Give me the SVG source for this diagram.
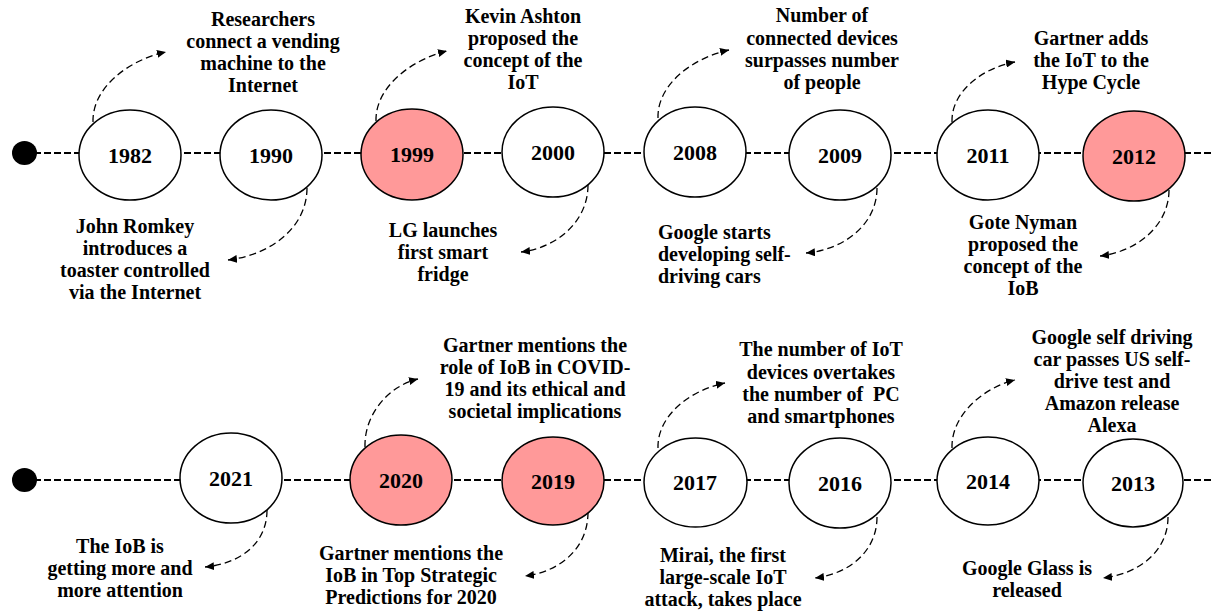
<svg xmlns="http://www.w3.org/2000/svg" width="1211" height="614" viewBox="0 0 1211 614">
<defs>
<marker id="ah" markerUnits="userSpaceOnUse" markerWidth="10" markerHeight="8" refX="9" refY="4" orient="auto">
<path d="M0,0 L9,4 L0,8 Z" fill="#000"/>
</marker>
<style>
.tl{fill:none;stroke:#000;stroke-width:2;stroke-dasharray:7 3}
.ar{fill:none;stroke:#000;stroke-width:1.3;stroke-dasharray:7 4;marker-end:url(#ah)}
.e{fill:#fff;stroke:#000;stroke-width:1.5}
.p{fill:#FF9999}
.yr{font-family:"Liberation Serif","Times New Roman",serif;font-weight:bold;font-size:22px;text-anchor:middle;fill:#000}
.lb{font-family:"Liberation Serif","Times New Roman",serif;font-weight:bold;font-size:20px;text-anchor:middle;fill:#000}
.ll{text-anchor:start}
</style>
</defs>
<rect width="1211" height="614" fill="#fff"/>
<g id="connectors">
<line class="tl" x1="24" y1="153" x2="1211" y2="153"/>
<line class="tl" x1="24" y1="480" x2="1211" y2="480"/>
<path class="ar" d="M93,122 C92,88 128,60 166,52"/>
<path class="ar" d="M376,121 C375,88 410,60 447,51"/>
<path class="ar" d="M658,118 C657,85 692,58 729,50"/>
<path class="ar" d="M952,122 C951,92 982,68 1015,62"/>
<path class="ar" d="M365,447 C364,415 388,386 418,379"/>
<path class="ar" d="M658,448 C657,416 690,390 725,383"/>
<path class="ar" d="M952,448 C951,416 982,388 1015,380"/>
<path class="ar" d="M307,188 C307,228 270,255 228,260"/>
<path class="ar" d="M588,185 C588,222 556,248 521,252"/>
<path class="ar" d="M877,188 C877,225 843,250 806,253"/>
<path class="ar" d="M1169,190 C1169,226 1136,252 1100,256"/>
<path class="ar" d="M267,510 C267,545 238,564 205,567"/>
<path class="ar" d="M588,512 C588,550 558,572 525,576"/>
<path class="ar" d="M877,517 C877,552 848,574 815,578"/>
<path class="ar" d="M1168,517 C1168,552 1138,574 1103,578"/>
</g>
<g id="start1"><ellipse cx="24.5" cy="153" rx="12.5" ry="12" fill="#000"/></g>
<g id="start2"><ellipse cx="24.5" cy="480" rx="12.5" ry="12" fill="#000"/></g>
<g id="n1982"><ellipse class="e" cx="130" cy="155" rx="51" ry="45"/><text class="yr" x="130" y="163">1982</text></g>
<g id="n1990"><ellipse class="e" cx="271" cy="155" rx="51" ry="45"/><text class="yr" x="271" y="163">1990</text></g>
<g id="n1999"><ellipse class="e p" cx="412" cy="154.5" rx="51" ry="45.5"/><text class="yr" x="412" y="162">1999</text></g>
<g id="n2000"><ellipse class="e" cx="553" cy="152" rx="51" ry="45"/><text class="yr" x="553" y="160">2000</text></g>
<g id="n2008"><ellipse class="e" cx="695" cy="152" rx="51" ry="45"/><text class="yr" x="695" y="160">2008</text></g>
<g id="n2009"><ellipse class="e" cx="840" cy="155" rx="51" ry="45"/><text class="yr" x="840" y="163">2009</text></g>
<g id="n2011"><ellipse class="e" cx="988" cy="155" rx="51" ry="45"/><text class="yr" x="988" y="163">2011</text></g>
<g id="n2012"><ellipse class="e p" cx="1134" cy="156" rx="51" ry="45"/><text class="yr" x="1134" y="164">2012</text></g>
<g id="n2021"><ellipse class="e" cx="231" cy="478" rx="51" ry="45"/><text class="yr" x="231" y="486">2021</text></g>
<g id="n2020"><ellipse class="e p" cx="401" cy="480" rx="51" ry="45"/><text class="yr" x="401" y="488">2020</text></g>
<g id="n2019"><ellipse class="e p" cx="553" cy="481" rx="51" ry="44"/><text class="yr" x="553" y="489">2019</text></g>
<g id="n2017"><ellipse class="e" cx="695.5" cy="482.5" rx="51.5" ry="44.5"/><text class="yr" x="695" y="490">2017</text></g>
<g id="n2016"><ellipse class="e" cx="840" cy="483" rx="51" ry="45"/><text class="yr" x="840" y="491">2016</text></g>
<g id="n2014"><ellipse class="e" cx="988" cy="481" rx="51" ry="44"/><text class="yr" x="988" y="489">2014</text></g>
<g id="n2013"><ellipse class="e" cx="1133" cy="483" rx="50" ry="44"/><text class="yr" x="1133" y="491">2013</text></g>
<g id="t1982"><text class="lb"><tspan x="263" y="26">Researchers</tspan><tspan x="263" y="48">connect a vending</tspan><tspan x="263" y="70">machine to the</tspan><tspan x="263" y="92">Internet</tspan></text></g>
<g id="t1990"><text class="lb"><tspan x="135" y="233">John Romkey</tspan><tspan x="135" y="255">introduces a</tspan><tspan x="135" y="277">toaster controlled</tspan><tspan x="135" y="299">via the Internet</tspan></text></g>
<g id="t1999"><text class="lb"><tspan x="523" y="23">Kevin Ashton</tspan><tspan x="523" y="45">proposed the</tspan><tspan x="523" y="67">concept of the</tspan><tspan x="523" y="89">IoT</tspan></text></g>
<g id="t2000"><text class="lb"><tspan x="443" y="237">LG launches</tspan><tspan x="443" y="259">first smart</tspan><tspan x="443" y="281">fridge</tspan></text></g>
<g id="t2008"><text class="lb"><tspan x="822" y="22">Number of</tspan><tspan x="822" y="45">connected devices</tspan><tspan x="822" y="67">surpasses number</tspan><tspan x="822" y="89">of people</tspan></text></g>
<g id="t2009"><text class="lb ll"><tspan x="658" y="239">Google starts</tspan><tspan x="658" y="261">developing self-</tspan><tspan x="658" y="283">driving cars</tspan></text></g>
<g id="t2011"><text class="lb"><tspan x="1091" y="45">Gartner adds</tspan><tspan x="1091" y="67">the IoT to the</tspan><tspan x="1091" y="89">Hype Cycle</tspan></text></g>
<g id="t2012"><text class="lb"><tspan x="1023" y="229">Gote Nyman</tspan><tspan x="1023" y="251">proposed the</tspan><tspan x="1023" y="273">concept of the</tspan><tspan x="1023" y="295">IoB</tspan></text></g>
<g id="t2021"><text class="lb"><tspan x="120" y="553">The IoB is</tspan><tspan x="120" y="575">getting more and</tspan><tspan x="120" y="597">more attention</tspan></text></g>
<g id="t2020"><text class="lb"><tspan x="535" y="352">Gartner mentions the</tspan><tspan x="535" y="374">role of IoB in COVID-</tspan><tspan x="535" y="396">19 and its ethical and</tspan><tspan x="535" y="418">societal implications</tspan></text></g>
<g id="t2019"><text class="lb"><tspan x="411" y="560">Gartner mentions the</tspan><tspan x="411" y="582">IoB in Top Strategic</tspan><tspan x="411" y="604">Predictions for 2020</tspan></text></g>
<g id="t2017"><text class="lb" style="white-space:pre"><tspan x="821" y="356">The number of IoT</tspan><tspan x="821" y="379">devices overtakes</tspan><tspan x="821" y="401">the number of  PC</tspan><tspan x="821" y="423">and smartphones</tspan></text></g>
<g id="t2016"><text class="lb"><tspan x="723" y="562">Mirai, the first</tspan><tspan x="723" y="584">large-scale IoT</tspan><tspan x="723" y="606">attack, takes place</tspan></text></g>
<g id="t2014"><text class="lb"><tspan x="1112" y="344">Google self driving</tspan><tspan x="1112" y="366">car passes US self-</tspan><tspan x="1112" y="388">drive test and</tspan><tspan x="1112" y="410">Amazon release</tspan><tspan x="1112" y="432">Alexa</tspan></text></g>
<g id="t2013"><text class="lb"><tspan x="1027" y="575">Google Glass is</tspan><tspan x="1027" y="597">released</tspan></text></g>
</svg>
